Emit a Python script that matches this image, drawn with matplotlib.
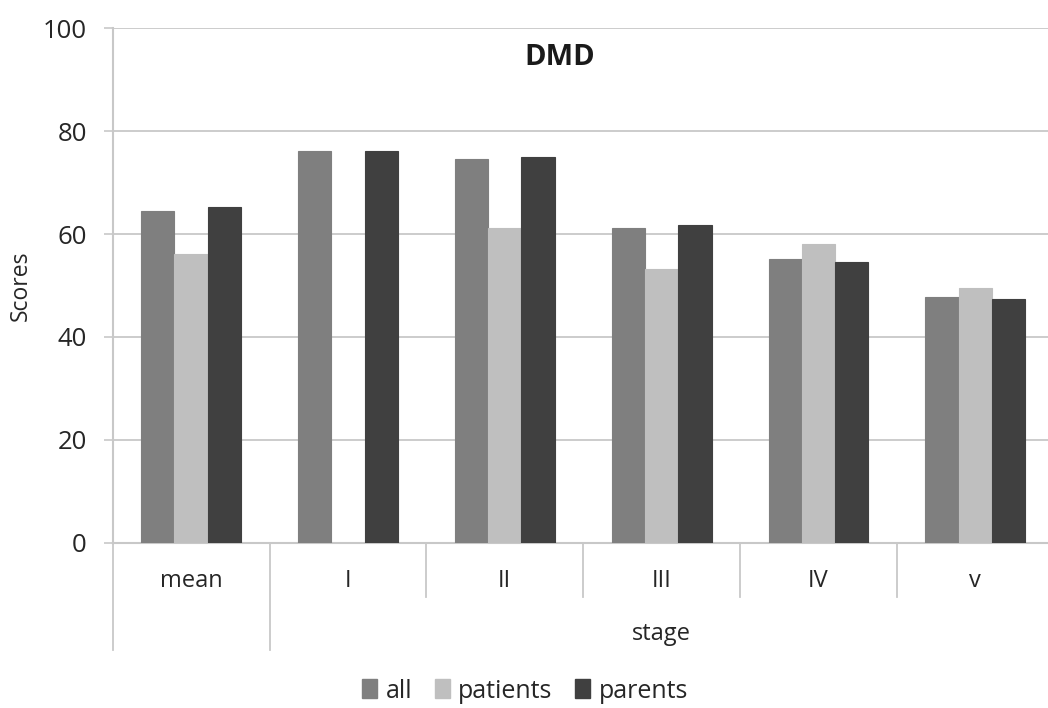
import numpy as np
import matplotlib
matplotlib.use("Agg")
import matplotlib.pyplot as plt
import matplotlib.transforms as mtransforms
from matplotlib.patches import Patch

# ---------------- DATA ----------------

CATEGORIES = ["mean", "I", "II", "III", "IV", "v"]
ALL = [64.4, 76.2, 74.5, 61.1, 55.2, 47.8]
PATIENTS = [56.2, np.nan, 61.2, 53.2, 58.0, 49.6]
PARENTS = [65.3, 76.2, 74.9, 61.8, 54.6, 47.3]
SERIES_NAMES = ["all", "patients", "parents"]
GROUP_LABEL = "stage"
TITLE = "DMD"
Y_LABEL = "Scores"
Y_TICKS = [0, 20, 40, 60, 80, 100]

# ---------------- STYLE ----------------

COLORS = ["#7f7f7f", "#bfbfbf", "#404040"]
GRID = "#c8c8c8"
TEXT = "#262626"
plt.rcParams["font.family"] = ["Open Sans", "DejaVu Sans"]

fig = plt.figure(figsize=(10.48, 7.08), dpi=100)
ax = fig.add_axes([0.1075, 0.2335, 0.898, 0.7265])

x = np.arange(len(CATEGORIES))
width = 0.212
for i, (vals, col) in enumerate(zip([ALL, PATIENTS, PARENTS], COLORS)):
    ax.bar(x + (i - 1) * width, vals, width, color=col,
           edgecolor=col, linewidth=0.8, zorder=3)

ax.set_xlim(-0.5, len(CATEGORIES) - 0.5)
ax.set_ylim(0, 100)
ax.set_yticks(Y_TICKS)
ax.tick_params(axis="y", length=6.5, width=1.2, color=GRID, pad=12,
               labelsize=18.5, labelcolor=TEXT)
ax.set_xticks([])
ax.grid(axis="y", color=GRID, linewidth=1.3, zorder=0)

for side in ["top", "right"]:
    ax.spines[side].set_visible(False)
for side in ["left", "bottom"]:
    ax.spines[side].set_color(GRID)
    ax.spines[side].set_linewidth(1.5)

ax.set_ylabel(Y_LABEL, fontsize=16.5, color=TEXT)
ax.yaxis.set_label_coords(-0.085, 0.5)

# ---------------- CATEGORY AXIS ----------------

trans = mtransforms.blended_transform_factory(ax.transData, ax.transAxes)
bounds = np.arange(len(CATEGORIES) + 1) - 0.5
for b in bounds:
    outer = b in (-0.5, 0.5, len(CATEGORIES) - 0.5)
    ax.plot([b, b], [0, -0.2086 if outer else -0.1056], transform=trans,
            color=GRID, linewidth=1.3, clip_on=False)

for xi, lab in zip(x, CATEGORIES):
    ax.text(xi, -0.0746, lab, transform=trans, ha="center", va="center",
            fontsize=17, color=TEXT)

ax.text((1 + len(CATEGORIES) - 1) / 2, -0.178, GROUP_LABEL, transform=trans,
        ha="center", va="center", fontsize=17, color=TEXT)

# ---------------- TITLE & LEGEND ----------------

fig.text(0.534, 0.919, TITLE, ha="center", va="center", fontsize=21,
         fontweight="bold", color="#1a1a1a")

handles = [Patch(facecolor=c, edgecolor=c) for c in COLORS]
fig.legend(handles, SERIES_NAMES, loc="center", bbox_to_anchor=(0.501, 0.024),
           ncol=3, frameon=False, fontsize=18, handlelength=0.6,
           handleheight=0.8, handletextpad=0.35, columnspacing=0.9,
           labelcolor=TEXT, borderpad=0.2)

fig.savefig("out.png", dpi=100)
